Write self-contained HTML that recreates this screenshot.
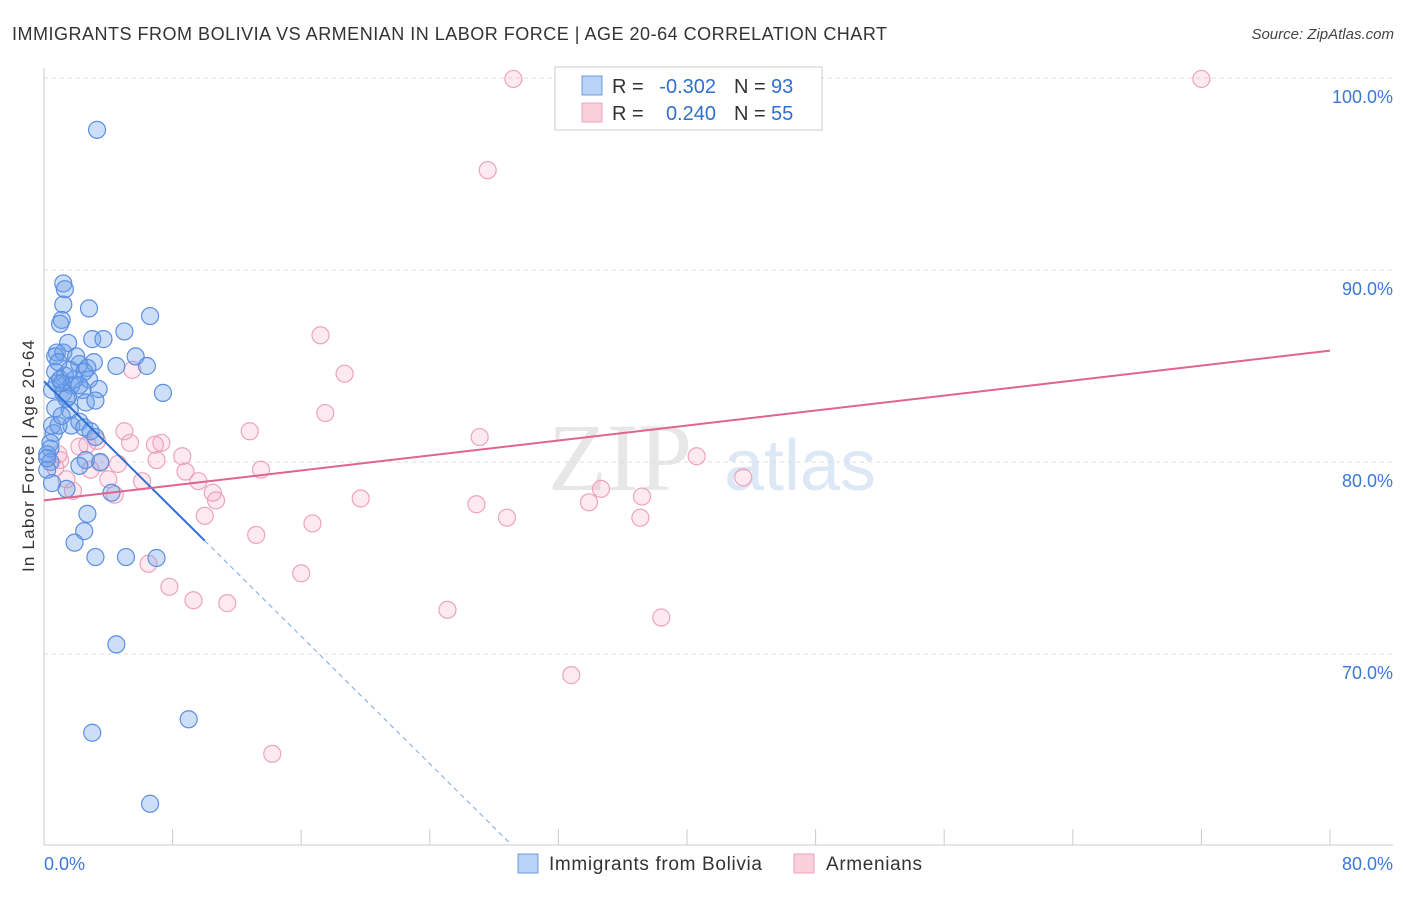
<!DOCTYPE html>
<html><head><meta charset="utf-8"><style>
body{margin:0;background:#fff;font-family:"Liberation Sans",sans-serif;}
</style></head><body>
<svg id="chart" width="1406" height="892" xmlns="http://www.w3.org/2000/svg" style="font-family:'Liberation Sans',sans-serif">
<text x="12" y="40" font-size="18" fill="#333" textLength="875" lengthAdjust="spacing">IMMIGRANTS FROM BOLIVIA VS ARMENIAN IN LABOR FORCE | AGE 20-64 CORRELATION CHART</text>
<text x="1394" y="39" font-size="15" fill="#444" text-anchor="end" font-style="italic">Source: ZipAtlas.com</text>
<text transform="translate(34,456) rotate(-90)" font-size="17" fill="#333" text-anchor="middle" textLength="232">In Labor Force | Age 20-64</text>
<g opacity="0.35">
<text x="620" y="490" font-size="96" fill="#bbb" text-anchor="middle" font-family="Liberation Serif,serif">ZIP</text>
<text x="800" y="490" font-size="72" fill="#9ec0e8" text-anchor="middle">atlas</text>
</g>
<g id="grid"></g><g id="axes"></g><g id="pts"></g><g id="trend"></g>
<g>
<rect x="555" y="67" width="267" height="63" fill="#fff" stroke="#ccc"/>
<rect x="582" y="76" width="20" height="19" fill="#b8d3f5" stroke="#6c9be0"/>
<rect x="582" y="103" width="20" height="19" fill="#f9cfdc" stroke="#eba6be"/>
<text x="612" y="93" font-size="20" fill="#333">R =</text>
<text x="716" y="93" font-size="20" fill="#2e6fd1" text-anchor="end">-0.302</text>
<text x="734" y="93" font-size="20" fill="#333">N =</text>
<text x="771" y="93" font-size="20" fill="#2e6fd1">93</text>
<text x="612" y="120" font-size="20" fill="#333">R =</text>
<text x="716" y="120" font-size="20" fill="#2e6fd1" text-anchor="end">0.240</text>
<text x="734" y="120" font-size="20" fill="#333">N =</text>
<text x="771" y="120" font-size="20" fill="#2e6fd1">55</text>
</g>
<g>
<rect x="518" y="854" width="20" height="19" fill="#b8d3f5" stroke="#6c9be0"/>
<text x="549" y="870" font-size="19" fill="#333" textLength="213">Immigrants from Bolivia</text>
<rect x="794" y="854" width="20" height="19" fill="#f9cfdc" stroke="#eba6be"/>
<text x="826" y="870" font-size="19" fill="#333" textLength="96">Armenians</text>
</g>
</svg>
<script>
const blueX=[3.3,1.2,1.3,1.2,2.8,6.6,1.1,1.0,5.0,3.0,3.7,1.5,0.8,1.2,0.7,2.0,5.7,3.1,4.5,6.4,2.2,2.7,0.7,1.3,2.5,2.8,0.8,1.1,1.7,3.4,0.5,1.2,1.5,2.4,7.4,2.6,0.7,1.6,1.7,2.2,0.5,2.5,2.9,3.2,0.6,0.4,0.9,0.4,0.2,2.6,3.5,0.4,2.2,0.2,0.5,1.4,4.2,2.7,2.5,1.9,3.2,5.1,7.0,4.5,9.0,3.0,6.6,1.4,1.9,1.0,1.6,0.9,2.2,3.2,0.2,1.1];
const blueY=[97.3,89.3,89.0,88.2,88.0,87.6,87.4,87.2,86.8,86.4,86.4,86.2,85.7,85.7,85.5,85.5,85.5,85.2,85.0,85.0,85.1,84.9,84.7,84.5,84.7,84.3,84.1,84.1,84.0,83.8,83.75,83.6,83.4,83.75,83.6,83.1,82.8,82.7,81.9,82.1,81.9,81.8,81.6,81.3,81.5,81.0,81.9,80.7,80.4,80.1,80.0,80.0,79.8,79.6,78.9,78.6,78.4,77.3,76.4,75.8,75.05,75.05,75.0,70.5,66.6,65.9,62.2,83.3,84.3,84.3,84.8,85.2,84.0,83.2,80.2,82.4];
const pinkX=[29.2,72.0,27.6,17.2,18.7,5.5,17.5,27.1,5.0,12.8,7.3,6.9,5.35,3.3,2.7,0.9,3.5,4.6,7.0,8.6,8.8,13.5,0.7,4.0,6.1,9.6,1.4,10.5,10.7,4.4,19.7,34.65,37.2,33.9,26.9,28.8,37.1,40.6,43.5,10.0,16.7,13.2,6.5,7.8,16.0,9.3,11.4,25.1,38.4,32.8,14.2,2.2,1.0,2.9,1.8];
const pinkY=[99.95,99.95,95.2,86.6,84.6,84.8,82.55,81.3,81.6,81.6,81.0,80.9,81.0,81.1,80.9,80.4,79.95,79.9,80.1,80.3,79.5,79.6,79.7,79.1,79.0,79.0,79.1,78.4,78.0,78.3,78.1,78.6,78.2,77.9,77.8,77.1,77.1,80.3,79.2,77.2,76.8,76.2,74.7,73.5,74.2,72.8,72.65,72.3,71.9,68.9,64.8,80.8,80.1,79.6,78.5];
const yTicks=[100,90,80,70];
const yTickLabels=["100.0%","90.0%","80.0%","70.0%"];
const xTicks=[0,8,16,24,32,40,48,56,64,72,80];
const blueTrend=[84.2,-0.83];
const pinkTrend=[78.0,0.0975];
const X0=44,X1=1330,Y0=845;
const sx=v=>X0+v/80*(X1-X0);
const sy=v=>78+(100-v)*19.2;
const NS="http://www.w3.org/2000/svg";
function mk(t,a,p){const e=document.createElementNS(NS,t);for(const k in a)e.setAttribute(k,a[k]);p.appendChild(e);return e;}
const grid=document.getElementById('grid'),axes=document.getElementById('axes'),pts=document.getElementById('pts'),tr=document.getElementById('trend');
yTicks.forEach((v,i)=>{
 const l=mk('line',{x1:X0,x2:1393,y1:sy(v),y2:sy(v),stroke:'#ddd','stroke-dasharray':'4,4'},grid);
 
 
 const t=mk('text',{x:1393,y:sy(v)+25,'font-size':18,fill:'#3b78d8','text-anchor':'end'},grid);t.textContent=yTickLabels[i];
 
 
});
const ya=mk('line',{x1:X0,x2:X0,y1:68,y2:Y0,stroke:'#ccc'},axes);


const xa=mk('line',{x1:X0,x2:1393,y1:Y0,y2:Y0,stroke:'#ccc'},axes);


xTicks.forEach(v=>{const t=mk('line',{x1:sx(v),x2:sx(v),y1:Y0,y2:Y0-16,stroke:'#ccc'},axes);
 
 });
const xl0=mk('text',{x:44,y:870,'font-size':18,fill:'#3b78d8'},axes);xl0.textContent='0.0%';


const xl1=mk('text',{x:1393,y:870,'font-size':18,fill:'#3b78d8','text-anchor':'end'},axes);xl1.textContent='80.0%';


pinkX.forEach((x,i)=>{const c=mk('circle',{cx:sx(x),cy:sy(pinkY[i]),r:8.5,fill:'rgba(245,160,190,0.22)',stroke:'#eda3bd','stroke-width':1.2},pts);
 
 });
blueX.forEach((x,i)=>{const c=mk('circle',{cx:sx(x),cy:sy(blueY[i]),r:8.5,fill:'rgba(110,160,235,0.35)',stroke:'#5b8fe0','stroke-width':1.2},pts);
 
 });
const bAt=x=>blueTrend[0]+blueTrend[1]*x;
const xEnd=(60.05-blueTrend[0])/blueTrend[1];
const b1=mk('line',{x1:sx(0),y1:sy(bAt(0)),x2:sx(10),y2:sy(bAt(10)),stroke:'#2e6fd1','stroke-width':2},tr);


const b2=mk('line',{x1:sx(10),y1:sy(bAt(10)),x2:sx(xEnd),y2:sy(bAt(xEnd)),stroke:'#7aa6e6','stroke-width':1,'stroke-dasharray':'5,4'},tr);


const p1=mk('line',{x1:sx(0),y1:sy(pinkTrend[0]),x2:sx(80),y2:sy(pinkTrend[0]+pinkTrend[1]*80),stroke:'#e0648c','stroke-width':2},tr);


</script>
</body></html>
